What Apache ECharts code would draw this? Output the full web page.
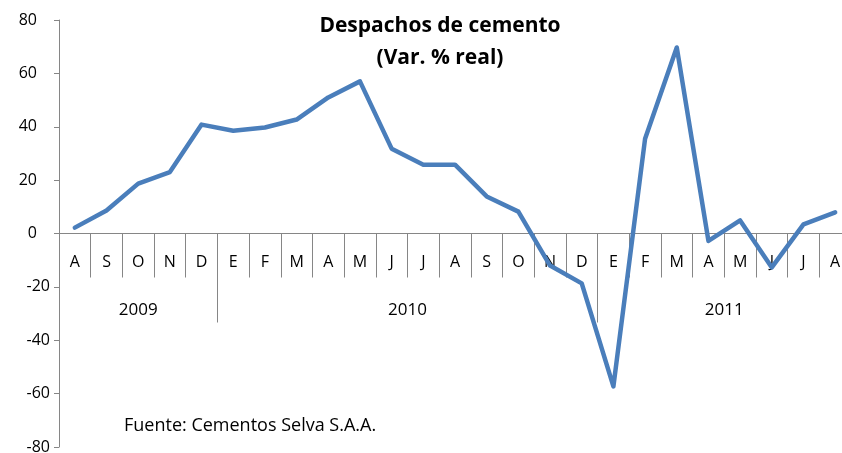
<!DOCTYPE html>
<html>
<head>
<meta charset="utf-8">
<script src="https://cdn.jsdelivr.net/npm/echarts@6/dist/echarts.min.js"></script>
<style>
  html, body { margin: 0; padding: 0; background: #fff; }
  #chart { width: 842px; height: 453px; }
</style>
</head>
<body>
<div id="chart"></div>
<script>
// meses (ago 2009 - ago 2011)
var meses = ['A','S','O','N','D','E','F','M','A','M','J','J','A','S','O','N','D','E','F','M','A','M','J','J','A'];
var variacion = [2.2, 8.6, 18.7, 23.0, 40.8, 38.5, 39.7, 42.7, 51.0, 57.0, 31.8, 25.8, 25.8, 13.9, 8.2,
                 -12.0, -18.7, -57.3, 35.5, 69.7, -2.8, 4.9, -12.7, 3.4, 7.9];
var anios = ['2009', '2010', '2011'];
var mesesPorAnio = [5, 12, 8];
var yTicks = [-80, -60, -40, -20, 0, 20, 40, 60, 80];

// cortes y centros de cada año sobre el eje
var cortes = [0], centros = [];
mesesPorAnio.forEach(function (n, i) {
    centros.push(cortes[i] + n / 2);
    cortes.push(cortes[i] + n);
});

var gris = '#868686';
var fuente = '"Open Sans", sans-serif';

// alto del grid y posicion del cero (eje x cruza en 0)
var gridTop = 20, gridBottom = 6, alto = 453 - gridTop - gridBottom;
var yMin = yTicks[0], yMax = yTicks[yTicks.length - 1];
var offCero = -alto * (0 - yMin) / (yMax - yMin);

var chart = echarts.init(document.getElementById('chart'));
chart.setOption({
    animation: false,
    title: [
        {
            text: 'Despachos de cemento\n(Var. % real)',
            left: 435, top: 5, textAlign: 'center',
            textStyle: { fontFamily: fuente, fontSize: 21, fontWeight: 'bold', color: '#000', lineHeight: 32 }
        },
        {
            text: 'Fuente: Cementos Selva S.A.A.',
            left: 119, top: 412,
            textStyle: { fontFamily: fuente, fontSize: 18, fontWeight: 'normal', color: '#000' }
        }
    ],
    grid: { left: 59, top: gridTop, width: 792, bottom: gridBottom, containLabel: false, outerBoundsMode: 'none' },
    xAxis: [
        {
            type: 'category',
            data: meses,
            boundaryGap: true,
            position: 'bottom',
            offset: offCero,
            axisLine: { show: true, onZero: false, lineStyle: { color: gris, width: 1 } },
            axisTick: { show: true, interval: 0, alignWithLabel: false, length: 44, lineStyle: { color: gris, width: 1 } },
            axisLabel: { show: true, margin: 21, fontFamily: fuente, fontSize: 16, color: '#000', interval: 0 },
            splitLine: { show: false }
        },
        {
            type: 'value',
            min: 0, max: 25,
            position: 'bottom',
            offset: offCero,
            axisLine: { show: true, onZero: false, lineStyle: { color: gris, width: 1 } },
            axisTick: { show: true, length: 89, customValues: cortes, lineStyle: { color: gris, width: 1 } },
            axisLabel: {
                margin: 68, fontFamily: fuente, fontSize: 17, color: '#000',
                customValues: centros,
                formatter: function (v) {
                    var i = centros.indexOf(v);
                    return i >= 0 ? anios[i] : '';
                }
            },
            splitLine: { show: false }
        }
    ],
    yAxis: {
        type: 'value',
        min: yMin, max: yMax, interval: 20,
        axisLine: { show: true, onZero: false, lineStyle: { color: gris, width: 1 } },
        axisTick: { show: true, length: 5, lineStyle: { color: gris } },
        axisLabel: {
            margin: 9, fontFamily: fuente, fontSize: 16, color: '#000',
            // Excel deja los negativos mas pegados al eje
            formatter: function (v) { return v < 0 ? '{n|' + v + '}' : '{p|' + v + '}'; },
            rich: {
                p: { fontFamily: fuente, fontSize: 16, color: '#000', padding: [0, 13, 0, 0] },
                n: { fontFamily: fuente, fontSize: 16, color: '#000' }
            }
        },
        splitLine: { show: false }
    },
    series: [
        {
            type: 'line',
            xAxisIndex: 0,
            data: variacion,
            showSymbol: false,
            symbol: 'none',
            lineStyle: { color: '#4a7ebb', width: 4.5, join: 'round', cap: 'round' },
            itemStyle: { color: '#4a7ebb' }
        }
    ]
});
</script>
</body>
</html>
